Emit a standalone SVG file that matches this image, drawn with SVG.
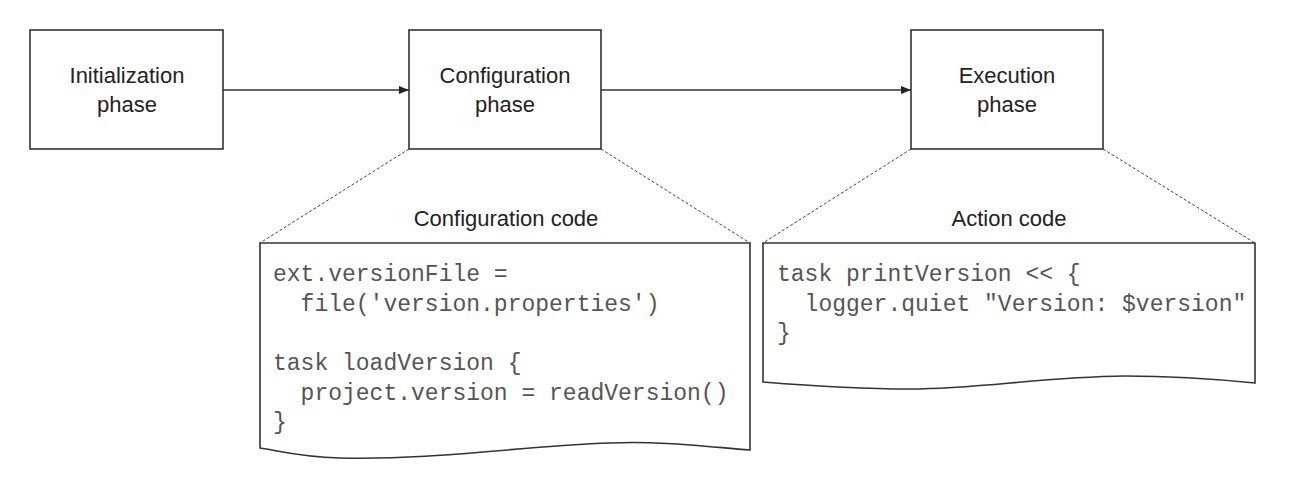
<svg xmlns="http://www.w3.org/2000/svg" width="1292" height="481" viewBox="0 0 1292 481">
<style>
.box{fill:#fff;stroke:#333;stroke-width:1.6}
.doc{fill:#fff;stroke:#333;stroke-width:1.6}
.lbl{font-family:"Liberation Sans",Arial,sans-serif;font-size:22px;fill:#222;text-anchor:middle}
.code{font-family:"Liberation Mono","Courier New",monospace;font-size:23px;fill:#555;white-space:pre}
.conn{stroke:#333;stroke-width:1.4;fill:none}
.dash{stroke:#444;stroke-width:1;stroke-dasharray:3,2;fill:none}
</style>
<defs>
<marker id="ah" viewBox="0 0 10 10" refX="10" refY="5" markerWidth="10" markerHeight="10" markerUnits="userSpaceOnUse" orient="auto">
<path d="M0,1 L10,5 L0,9 z" fill="#222"/>
</marker>
</defs>
<rect width="1292" height="481" fill="#fff"/>
<g id="connectors">
<line class="conn" x1="223" y1="90" x2="409" y2="90" marker-end="url(#ah)"/>
<line class="conn" x1="601" y1="90" x2="911" y2="90" marker-end="url(#ah)"/>
<line class="dash" x1="409" y1="149" x2="260" y2="243"/>
<line class="dash" x1="601" y1="149" x2="750" y2="243"/>
<line class="dash" x1="911" y1="149" x2="763" y2="243"/>
<line class="dash" x1="1103" y1="149" x2="1255" y2="243"/>
</g>
<g id="init">
<rect class="box" x="30" y="30" width="193" height="119"/>
<text class="lbl" x="127" y="83">Initialization</text>
<text class="lbl" x="127" y="112">phase</text>
</g>
<g id="config">
<rect class="box" x="409" y="30" width="192" height="119"/>
<text class="lbl" x="505" y="83">Configuration</text>
<text class="lbl" x="505" y="112">phase</text>
</g>
<g id="exec">
<rect class="box" x="911" y="30" width="192" height="119"/>
<text class="lbl" x="1007" y="83">Execution</text>
<text class="lbl" x="1007" y="112">phase</text>
</g>
<g id="config-code">
<text class="lbl" x="506" y="226">Configuration code</text>
<path class="doc" d="M260,243 L750,243 L750,450 C700,446 660,441 610,443 C520,446 440,460 340,458 C300,457 280,451 260,448 Z"/>
<text class="code" x="273" y="281">ext.versionFile =</text>
<text class="code" x="273" y="311">  file('version.properties')</text>
<text class="code" x="273" y="370">task loadVersion {</text>
<text class="code" x="273" y="400">  project.version = readVersion()</text>
<text class="code" x="273" y="429">}</text>
</g>
<g id="action-code">
<text class="lbl" x="1009" y="226">Action code</text>
<path class="doc" d="M763,243 L1255,243 L1255,383 C1215,379 1180,376 1125,376 C1040,377 980,389 910,389 C850,389 800,385 763,382 Z"/>
<text class="code" x="777" y="281">task printVersion &lt;&lt; {</text>
<text class="code" x="777" y="311">  logger.quiet "Version: $version"</text>
<text class="code" x="777" y="340">}</text>
</g>
</svg>
